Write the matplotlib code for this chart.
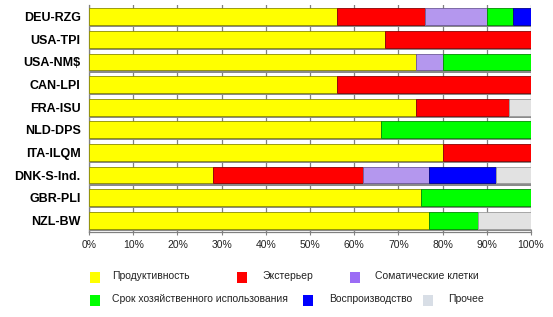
import matplotlib
matplotlib.use("Agg")
import matplotlib.pyplot as plt
import matplotlib.patheffects as pe
from matplotlib.patches import Rectangle
import numpy as np

plt.rcParams['font.family'] = ['Liberation Sans', 'DejaVu Sans']

categories = ["DEU-RZG", "USA-TPI", "USA-NM$", "CAN-LPI", "FRA-ISU",
              "NLD-DPS", "ITA-ILQM", "DNK-S-Ind.", "GBR-PLI", "NZL-BW"]
series_names = ["Продуктивность", "Экстерьер", "Соматические клетки",
                "Срок хозяйственного использования", "Воспроизводство", "Прочее"]
productivity = [56, 67, 74, 56, 74, 66, 80, 28, 75, 77]
exterior     = [20, 33, 0, 44, 21, 0, 20, 34, 0, 0]
somatic      = [14, 0, 6, 0, 0, 0, 0, 15, 0, 0]
longevity    = [6, 0, 20, 0, 0, 34, 0, 0, 25, 11]
reproduction = [4, 0, 0, 0, 0, 0, 0, 15, 0, 0]
other        = [0, 0, 0, 0, 5, 0, 0, 8, 0, 12]
series = [productivity, exterior, somatic, longevity, reproduction, other]
bar_colors = ["#FFFF00", "#FF0000", "#B497EE", "#00FF00", "#0000FF", "#E2E2E2"]
legend_colors = ["#FFFF00", "#FF0000", "#9B6CF5", "#00FF00", "#0000FF", "#D8DEE6"]
edge_colors = ["#8C8C00", "#8C0000", "#6E5A99", "#008C00", "#00008C", "#9A9A9A"]

fig = plt.figure(figsize=(5.53, 3.17), dpi=100)
ax = fig.add_axes([89/553, 1 - 232/317, (531-89)/553, (232-5)/317])

y = np.arange(len(categories))
left = np.zeros(len(categories))
for vals, c, ec in zip(series, bar_colors, edge_colors):
    vals = np.array(vals, dtype=float)
    bars = ax.barh(y, vals, left=left, height=0.74, color=c, edgecolor=ec,
                   linewidth=0.6, zorder=3)
    for b in bars:
        b.set_path_effects([pe.SimplePatchShadow(offset=(0, -1.6), shadow_rgbFace="#8a8a8a", alpha=1.0), pe.Normal()])
    left += vals

ax.set_xlim(0, 100)
ax.set_ylim(len(categories) - 0.5 + 0.02, -0.5 - 0.02)
ax.set_yticks(y)
ax.set_yticklabels(categories, fontsize=9, fontweight='bold')
ax.set_xticks(np.arange(0, 101, 10))
ax.set_xticklabels([f"{v}%" for v in range(0, 101, 10)], fontsize=7.5, color="#222222")
ax.xaxis.grid(True, color="#808080", linewidth=0.9, zorder=0)
ax.set_axisbelow(True)
for s in ["top", "right"]:
    ax.spines[s].set_visible(False)
for s in ["left", "bottom"]:
    ax.spines[s].set_color("#808080")
    ax.spines[s].set_linewidth(0.9)
ax.tick_params(axis='y', length=0, pad=6)
ax.tick_params(axis='x', length=4, direction='inout', color="#808080", pad=4)

# legend (manual layout)
items = [
    (90, 112, 277, 0), (237, 262, 277, 1), (350, 375, 277, 2),
    (90, 112, 300, 3), (303, 329, 300, 4), (423, 448, 300, 5),
]
for mx, tx, yy, i in items:
    fig.patches.append(Rectangle((mx/553, 1 - (yy+6)/317), 10/553, 11/317,
                                 transform=fig.transFigure, facecolor=legend_colors[i],
                                 edgecolor='none'))
    fig.text(tx/553, 1 - (yy-1)/317, series_names[i], fontsize=7.5, va='center', ha='left',
             color="#222222")

fig.savefig("out.png", dpi=100)
